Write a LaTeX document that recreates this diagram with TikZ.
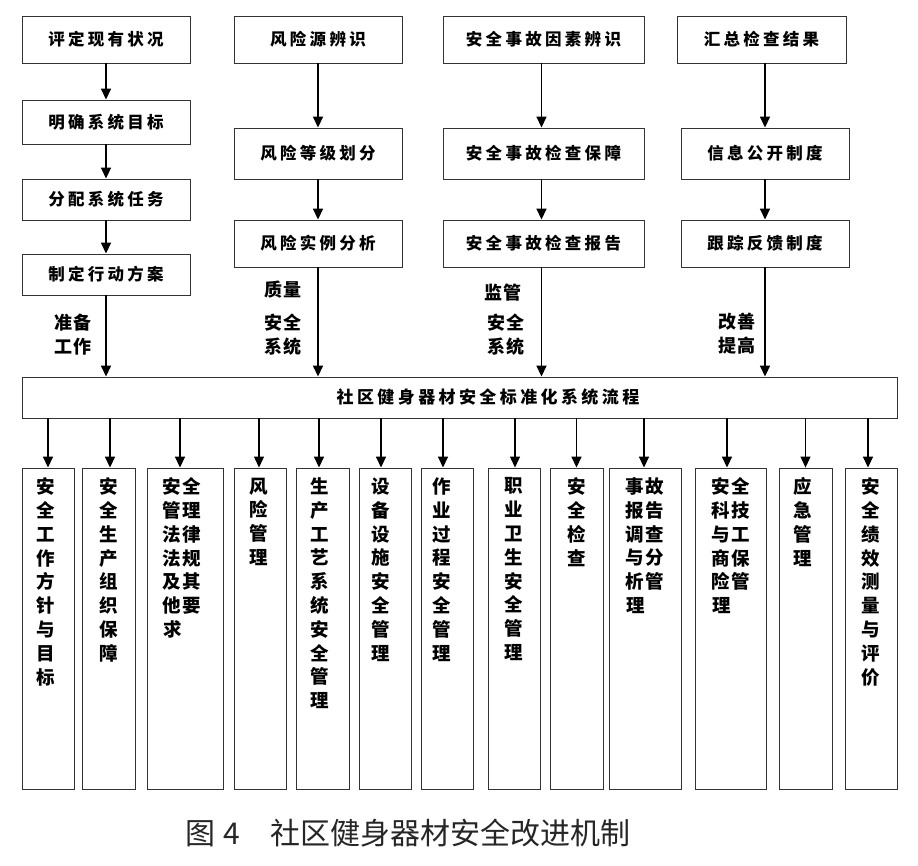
\documentclass[tikz,border=0pt]{standalone}
\usepackage{fontspec}
\newfontfamily\cjk{Noto Sans CJK SC}
\newfontfamily\cjkt{Noto Sans CJK SC}[LetterSpace=20]
\newfontfamily\cjkv{Noto Sans CJK SC}[LetterSpace=8]
\usetikzlibrary{arrows.meta}
\begin{document}
\begin{tikzpicture}[x=1pt,y=-1pt,
 tbox/.style={draw=black!80, line width=0.9pt, inner sep=0pt, font=\cjkt\bfseries\fontsize{16.5}{20}\selectfont},
 bbox/.style={draw=black!80, line width=0.9pt, inner sep=0pt, minimum height=321pt},
 vtext/.style={font=\cjkv\bfseries\fontsize{18.5}{23.8}\selectfont, align=center, inner sep=0pt, anchor=north},
 lab/.style={font=\cjkv\bfseries\fontsize{18}{24}\selectfont, align=center, inner sep=0pt},
 arr/.style={line width=1.6pt, -{Triangle[length=11pt,width=10pt]}},
 arrt/.style={line width=1.1pt, -{Triangle[length=11pt,width=10pt]}}]
\useasboundingbox (0,0) rectangle (918,865);
\fill[white] (0,0) rectangle (918,865);

% column 1
\node[tbox, minimum width=168pt, minimum height=47pt] (a1) at (106,39.5) {评定现有状况};
\node[tbox, minimum width=168pt, minimum height=44pt] (a2) at (106,122) {明确系统目标};
\node[tbox, minimum width=168pt, minimum height=41pt] (a3) at (106,199.5) {分配系统任务};
\node[tbox, minimum width=168pt, minimum height=41pt] (a4) at (106,274.5) {制定行动方案};
% column 2
\node[tbox, minimum width=168pt, minimum height=47pt] (b1) at (318,39.5) {风险源辨识};
\node[tbox, minimum width=168pt, minimum height=51pt] (b2) at (318,153.5) {风险等级划分};
\node[tbox, minimum width=168pt, minimum height=47pt] (b3) at (318,243.5) {风险实例分析};
% column 3
\node[tbox, minimum width=201pt, minimum height=47pt] (c1) at (543.5,39.5) {安全事故因素辨识};
\node[tbox, minimum width=201pt, minimum height=51pt] (c2) at (543.5,153.5) {安全事故检查保障};
\node[tbox, minimum width=201pt, minimum height=47pt] (c3) at (543.5,243.5) {安全事故检查报告};
% column 4
\node[tbox, minimum width=169pt, minimum height=47pt] (d1) at (761.5,39.5) {汇总检查结果};
\node[tbox, minimum width=168pt, minimum height=51pt] (d2) at (765,153.5) {信息公开制度};
\node[tbox, minimum width=168pt, minimum height=47pt] (d3) at (765,243.5) {跟踪反馈制度};

% main bar
\node[tbox, minimum width=875pt, minimum height=41pt] (m) at (459.5,397.5) {};
\node[font=\cjkt\bfseries\fontsize{17}{20}\selectfont, inner sep=0pt] (mt) at (488,397.5) {社区健身器材安全标准化系统流程};

% top arrows
\draw[arr] (a1.south) -- (a2.north);
\draw[arr] (a2.south) -- (a3.north);
\draw[arr] (a3.south) -- (a4.north);
\draw[arr] (a4.south) -- (a4.south |- m.north);
\draw[arr] (b1.south) -- (b2.north);
\draw[arr] (b2.south) -- (b3.north);
\draw[arr] (b3.south) -- (b3.south |- m.north);
\draw[arr] ([xshift=-2pt]c1.south) -- ([xshift=-2pt]c2.north);
\draw[arr] ([xshift=-2pt]c2.south) -- ([xshift=-2pt]c3.north);
\draw[arr] ([xshift=-2pt]c3.south) -- ([xshift=-2pt]c3.south |- m.north);
\draw[arr] (d2.north |- d1.south) -- (d2.north);
\draw[arr] (d2.south) -- (d3.north);
\draw[arr] (d3.south) -- (d3.south |- m.north);

% arrow labels
\node[lab] (l1) at (73,335) {准备\\工作};
\node[lab] (l2) at (283,290) {质量};
\node[lab] (l3) at (283,335) {安全\\系统};
\node[lab] (l4) at (503,293) {监管};
\node[lab] (l5) at (506,335) {安全\\系统};
\node[lab] (l6) at (737,333.5) {改善\\提高};

% bottom boxes
\node[bbox, minimum width=52pt] (e1) at (48,628.5) {};
\node[bbox, minimum width=53pt] (e2) at (108.5,628.5) {};
\node[bbox, minimum width=76pt] (e3) at (185,628.5) {};
\node[bbox, minimum width=52pt] (e4) at (260,628.5) {};
\node[bbox, minimum width=53pt] (e5) at (322.5,628.5) {};
\node[bbox, minimum width=52pt] (e6) at (385,628.5) {};
\node[bbox, minimum width=52pt] (e7) at (447,628.5) {};
\node[bbox, minimum width=52pt] (e8) at (514,628.5) {};
\node[bbox, minimum width=53pt] (e9) at (576.5,628.5) {};
\node[bbox, minimum width=72pt] (e10) at (645,628.5) {};
\node[bbox, minimum width=71pt] (e11) at (730.5,628.5) {};
\node[bbox, minimum width=53pt] (e12) at (805.5,628.5) {};
\node[bbox, minimum width=52pt] (e13) at (871,628.5) {};

\node[vtext] (t1) at ([yshift=-10pt,xshift=-2pt]e1.north) {安\\全\\工\\作\\方\\针\\与\\目\\标};
\node[vtext] (t2) at ([yshift=-10pt]e2.north) {安\\全\\生\\产\\组\\织\\保\\障};
\node[vtext] (t3) at ([yshift=-10pt,xshift=-3pt]e3.north) {安全\\管理\\法律\\法规\\及其\\他要\\求\phantom{求}};
\node[vtext] (t4) at ([yshift=-10pt,xshift=-1pt]e4.north) {风\\险\\管\\理};
\node[vtext] (t5) at ([yshift=-10pt,xshift=-3pt]e5.north) {生\\产\\工\\艺\\系\\统\\安\\全\\管\\理};
\node[vtext] (t6) at ([yshift=-10pt,xshift=-4pt]e6.north) {设\\备\\设\\施\\安\\全\\管\\理};
\node[vtext] (t7) at ([yshift=-10pt,xshift=-5pt]e7.north) {作\\业\\过\\程\\安\\全\\管\\理};
\node[vtext] (t8) at ([yshift=-10pt]e8.north) {职\\业\\卫\\生\\安\\全\\管\\理};
\node[vtext] (t9) at ([yshift=-10pt]e9.north) {安\\全\\检\\查};
\node[vtext] (t10) at ([yshift=-10pt]e10.north) {事故\\报告\\调查\\与分\\析管\\理\phantom{理}};
\node[vtext] (t11) at ([yshift=-10pt]e11.north) {安全\\科技\\与工\\商保\\险管\\理\phantom{理}};
\node[vtext] (t12) at ([yshift=-10pt,xshift=-3pt]e12.north) {应\\急\\管\\理};
\node[vtext] (t13) at ([yshift=-10pt]e13.north) {安\\全\\绩\\效\\测\\量\\与\\评\\价};

% bottom arrows
\draw[arr] (m.south -| e1.north) -- (e1.north);
\draw[arr] ([xshift=1.5pt]m.south -| e2.north) -- ([xshift=1.5pt]e2.north);
\draw[arr] ([xshift=-5pt]m.south -| e3.north) -- ([xshift=-5pt]e3.north);
\draw[arrt] ([xshift=-1pt]m.south -| e4.north) -- ([xshift=-1pt]e4.north);
\draw[arr] ([xshift=-3.5pt]m.south -| e5.north) -- ([xshift=-3.5pt]e5.north);
\draw[arr] ([xshift=-4pt]m.south -| e6.north) -- ([xshift=-4pt]e6.north);
\draw[arr] ([xshift=-4pt]m.south -| e7.north) -- ([xshift=-4pt]e7.north);
\draw[arrt] ([xshift=1pt]m.south -| e8.north) -- ([xshift=1pt]e8.north);
\draw[arr] (m.south -| e9.north) -- (e9.north);
\draw[arr] ([xshift=-1pt]m.south -| e10.north) -- ([xshift=-1pt]e10.north);
\draw[arr] ([xshift=-3.5pt]m.south -| e11.north) -- ([xshift=-3.5pt]e11.north);
\draw[arrt] (m.south -| e12.north) -- (e12.north);
\draw[arr] ([xshift=-3pt]m.south -| e13.north) -- ([xshift=-3pt]e13.north);

% caption
\node[font=\cjk\fontsize{30}{32}\selectfont, inner sep=0pt, text=black!85] (cap) at (408,833) {图\hspace{8pt}4\hspace{30pt}社区健身器材安全改进机制};
\end{tikzpicture}
\end{document}
